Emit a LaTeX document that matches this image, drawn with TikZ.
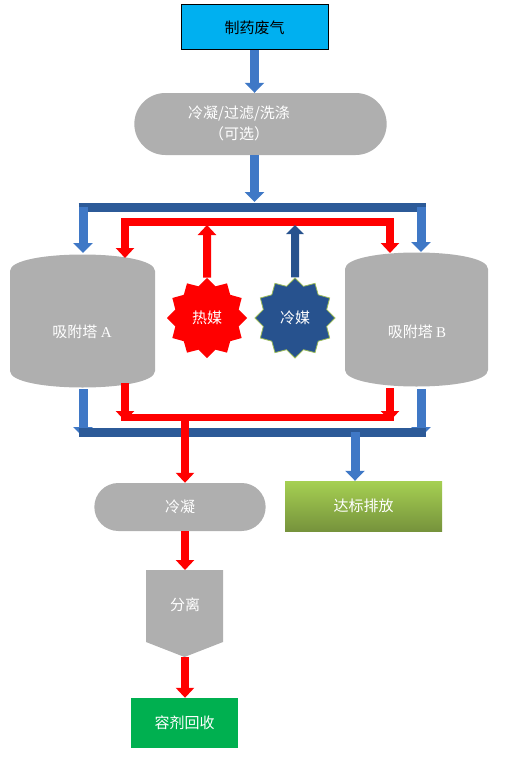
\documentclass[tikz,border=0pt]{standalone}
\usepackage{fontspec}
\setmainfont{Liberation Serif}
\newfontfamily\cjk{Noto Sans CJK SC}
\usetikzlibrary{arrows.meta,shapes.geometric,shapes.misc}
\definecolor{cyanbox}{HTML}{00B0F0}
\definecolor{shapegrey}{HTML}{AFAFAF}
\definecolor{flowblue}{HTML}{3F78C6}
\definecolor{barblue}{HTML}{2C5A98}
\definecolor{coldblue}{HTML}{27528E}
\definecolor{coldedge}{HTML}{9BBB59}
\definecolor{flowred}{HTML}{FF0000}
\definecolor{greentop}{HTML}{A6D052}
\definecolor{greenbot}{HTML}{76933C}
\definecolor{recgreen}{HTML}{00B050}
\begin{document}
\begin{tikzpicture}[x=1pt,y=-1pt,
  every node/.style={font=\cjk\fontsize{15}{18}\selectfont},
  wtext/.style={text=white},
  bluebar/.style={line width=9pt,draw=barblue},
  redbar/.style={line width=7pt,draw=flowred},
  blueflow/.style={line width=9pt,draw=flowblue,-{Triangle[width=19pt,length=10pt]}},
  coldflow/.style={line width=8pt,draw=coldblue,-{Triangle[width=17pt,length=9pt]}},
  redflow/.style={line width=8pt,draw=flowred,line join=miter,-{Triangle[width=18pt,length=10pt]}},
  greyshape/.style={fill=shapegrey}]
\useasboundingbox (0,0) rectangle (517,760);

% ---------- nodes ----------
\node[draw=black,line width=1pt,fill=cyanbox,minimum width=147pt,minimum height=45pt] (src) at (254.5,27.5) {制药废气};
\node[rounded rectangle,greyshape,minimum width=259pt,minimum height=62pt] (pre) at (260.5,124) {};
\node[wtext,align=center,font=\cjk\fontsize{15}{21}\selectfont] (pretext) at (239,123) {冷凝/过滤/洗涤\\（可选）};

% cylinders
\fill[shapegrey] (10,271) .. controls (10,249) and (155,249) .. (155,271) -- (155,371) .. controls (155,393) and (10,393) .. (10,371) -- cycle;
\fill[shapegrey] (345,269) .. controls (345,247) and (488,247) .. (488,269) -- (488,370) .. controls (488,392) and (345,392) .. (345,370) -- cycle;
\node[wtext] (cylA) at (82,332) {吸附塔 {\rmfamily A}};
\node[wtext] (cylB) at (417,332) {吸附塔 {\rmfamily B}};

% stars
\node[star,star points=12,star point ratio=1.22,minimum size=80pt,inner sep=0pt,fill=flowred,wtext] (hot) at (207,318) {热媒};
\node[star,star points=12,star point ratio=1.22,minimum size=80pt,inner sep=0pt,fill=coldblue,draw=coldedge,line width=0.8pt,wtext] (cold) at (295,318) {冷媒};

\node[rounded rectangle,greyshape,minimum width=178pt,minimum height=48pt,wtext] (cond) at (180,507) {冷凝};
\node[minimum width=157pt,minimum height=50pt,top color=greentop,bottom color=greenbot,wtext] (out) at (363.5,506) {达标排放};

\fill[shapegrey] (146,570) -- (223,570) -- (223,642) -- (184.5,657) -- (146,642) -- cycle;
\node[wtext] (sep) at (185,605) {分离};
\coordinate (septop) at (185,570);
\coordinate (sepbot) at (185,657);

\node[minimum width=107pt,minimum height=50pt,fill=recgreen,wtext] (rec) at (184.5,723) {容剂回收};

% ---------- junction coordinates ----------
\coordinate (b1c) at (254.5,202);
\coordinate (b1L) at (78.5,207);
\coordinate (b1R) at (425.5,207);
\coordinate (b1A) at (83,207);
\coordinate (b1B) at (421,207);
\coordinate (topAb) at (83,253);
\coordinate (topBb) at (421,252);
\coordinate (rc) at (207,222);
\coordinate (topAr) at (125,258);
\coordinate (topBr) at (390,253);
\coordinate (hotend) at (207,225);
\coordinate (coldend) at (295,225);
\coordinate (botAr) at (125,383);
\coordinate (botBr) at (390,388);
\coordinate (botAb) at (83,389);
\coordinate (botBb) at (421,389);
\coordinate (r2L) at (121,417);
\coordinate (r2R) at (394,417);
\coordinate (r2A) at (125,421);
\coordinate (r2B) at (390,421);
\coordinate (b2L) at (78.5,432);
\coordinate (b2R) at (425.5,432);
\coordinate (b2A) at (83,437);
\coordinate (b2B) at (421,437);
\coordinate (r2c) at (185,417);
\coordinate (b2c) at (355,432);

% ---------- connectors ----------
\draw[blueflow] (src.south) -- (pre.north -| src.south);
\draw[blueflow] (pre.south -| src.south) -- (b1c);
\draw[bluebar] (b1L) -- (b1R);
\draw[blueflow] (b1A) -- (topAb);
\draw[blueflow] (b1B) -- (topBb);

\draw[redflow] (rc) -| (topAr);
\draw[redflow] (rc) -| (topBr);
\draw[redflow] (hot.north) -- (hotend);
\draw[coldflow] (cold.north) -- (coldend);

\draw[blueflow] (botAb) -- (b2A);
\draw[blueflow] (botBb) -- (b2B);
\draw[bluebar] (b2L) -- (b2R);
\draw[redbar] (r2L) -- (r2R);
\draw[redflow] (botAr) -- (r2A);
\draw[redflow] (botBr) -- (r2B);

\draw[blueflow] (b2c) -- (out.north -| b2c);
\draw[redflow] (r2c) -- (cond.north -| r2c);
\draw[redflow] (cond.south -| r2c) -- (septop);
\draw[redflow] (sepbot) -- (rec.north -| sepbot);
\end{tikzpicture}
\end{document}
